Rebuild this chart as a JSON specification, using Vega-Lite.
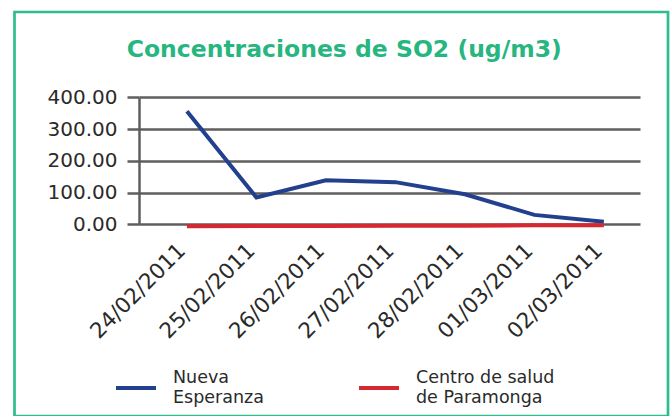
{
  "$schema": "https://vega.github.io/schema/vega-lite/v6.json",
  "width": 653.5,
  "height": 404,
  "autosize": "none",
  "padding": {"left": 14.5, "top": 12, "right": 2, "bottom": 0},
  "background": "white",
  "title": {
    "text": "Concentraciones de SO2 (ug/m3)",
    "font": "DejaVu Sans",
    "fontSize": 23.5,
    "fontWeight": "bold",
    "color": "#27B67F",
    "anchor": "middle",
    "frame": "group",
    "baseline": "alphabetic",
    "offset": 0,
    "dy": 68,
    "dx": 3
  },
  "data": {
    "values": [
      {"fecha": "24/02/2011", "serie": "Nueva Esperanza", "valor": 356},
      {"fecha": "25/02/2011", "serie": "Nueva Esperanza", "valor": 85},
      {"fecha": "26/02/2011", "serie": "Nueva Esperanza", "valor": 139},
      {"fecha": "27/02/2011", "serie": "Nueva Esperanza", "valor": 133},
      {"fecha": "28/02/2011", "serie": "Nueva Esperanza", "valor": 95},
      {"fecha": "01/03/2011", "serie": "Nueva Esperanza", "valor": 30},
      {"fecha": "02/03/2011", "serie": "Nueva Esperanza", "valor": 8},
      {"fecha": "24/02/2011", "serie": "Centro de salud de Paramonga", "valor": -6},
      {"fecha": "25/02/2011", "serie": "Centro de salud de Paramonga", "valor": -5},
      {"fecha": "26/02/2011", "serie": "Centro de salud de Paramonga", "valor": -5},
      {"fecha": "27/02/2011", "serie": "Centro de salud de Paramonga", "valor": -4},
      {"fecha": "28/02/2011", "serie": "Centro de salud de Paramonga", "valor": -4},
      {"fecha": "01/03/2011", "serie": "Centro de salud de Paramonga", "valor": -3},
      {"fecha": "02/03/2011", "serie": "Centro de salud de Paramonga", "valor": -3}
    ]
  },
  "mark": {"type": "line", "strokeWidth": 4, "strokeCap": "butt", "strokeJoin": "miter"},
  "encoding": {
    "x": {
      "field": "fecha",
      "type": "ordinal",
      "sort": null,
      "scale": {"type": "point", "range": [124.5, 625.5], "padding": 0.605, "align": 0.57},
      "axis": {
        "orient": "bottom",
        "offset": -191.6,
        "domain": false,
        "ticks": false,
        "grid": false,
        "title": null,
        "labelAngle": -45,
        "labelAlign": "right",
        "labelBaseline": "middle",
        "labelPadding": 23,
        "labelOffset": -5,
        "labelFont": "DejaVu Sans",
        "labelFontSize": 21.5,
        "labelColor": "#2a2a2a",
        "labelOverlap": false
      }
    },
    "y": {
      "field": "valor",
      "type": "quantitative",
      "scale": {"domain": [0, 400], "range": [212.4, 85.3], "nice": false, "zero": false},
      "axis": {
        "values": [0, 100, 200, 300, 400],
        "format": ".2f",
        "offset": -124.5,
        "tickSize": 12,
        "tickColor": "#5e5e5e",
        "tickWidth": 2.5,
        "domainColor": "#5e5e5e",
        "domainWidth": 2.5,
        "grid": true,
        "gridColor": "#5e5e5e",
        "gridWidth": 2.5,
        "gridOpacity": 1,
        "labelFont": "DejaVu Sans",
        "labelFontSize": 20,
        "labelColor": "#2a2a2a",
        "labelPadding": 10,
        "title": null
      }
    },
    "color": {
      "field": "serie",
      "type": "nominal",
      "scale": {"domain": ["Nueva Esperanza", "Centro de salud de Paramonga"], "range": ["#22408E", "#D7282F"]},
      "legend": {
        "orient": "none",
        "legendX": 99.5,
        "legendY": 354,
        "direction": "horizontal",
        "title": null,
        "padding": 0,
        "symbolType": "stroke",
        "symbolSize": 1600,
        "symbolStrokeWidth": 4,
        "labelFont": "DejaVu Sans",
        "labelFontSize": 17.5,
        "labelColor": "#2a2a2a",
        "labelLineHeight": 21.7,
        "labelOffset": 15,
        "labelLimit": 300,
        "labelBaseline": "line-bottom",
        "columnPadding": 87,
        "labelExpr": "datum.label == 'Nueva Esperanza' ? ['Nueva', 'Esperanza'] : ['Centro de salud', 'de Paramonga']"
      }
    }
  },
  "config": {"view": {"stroke": "#2DBE8A", "strokeWidth": 2.7}}
}
